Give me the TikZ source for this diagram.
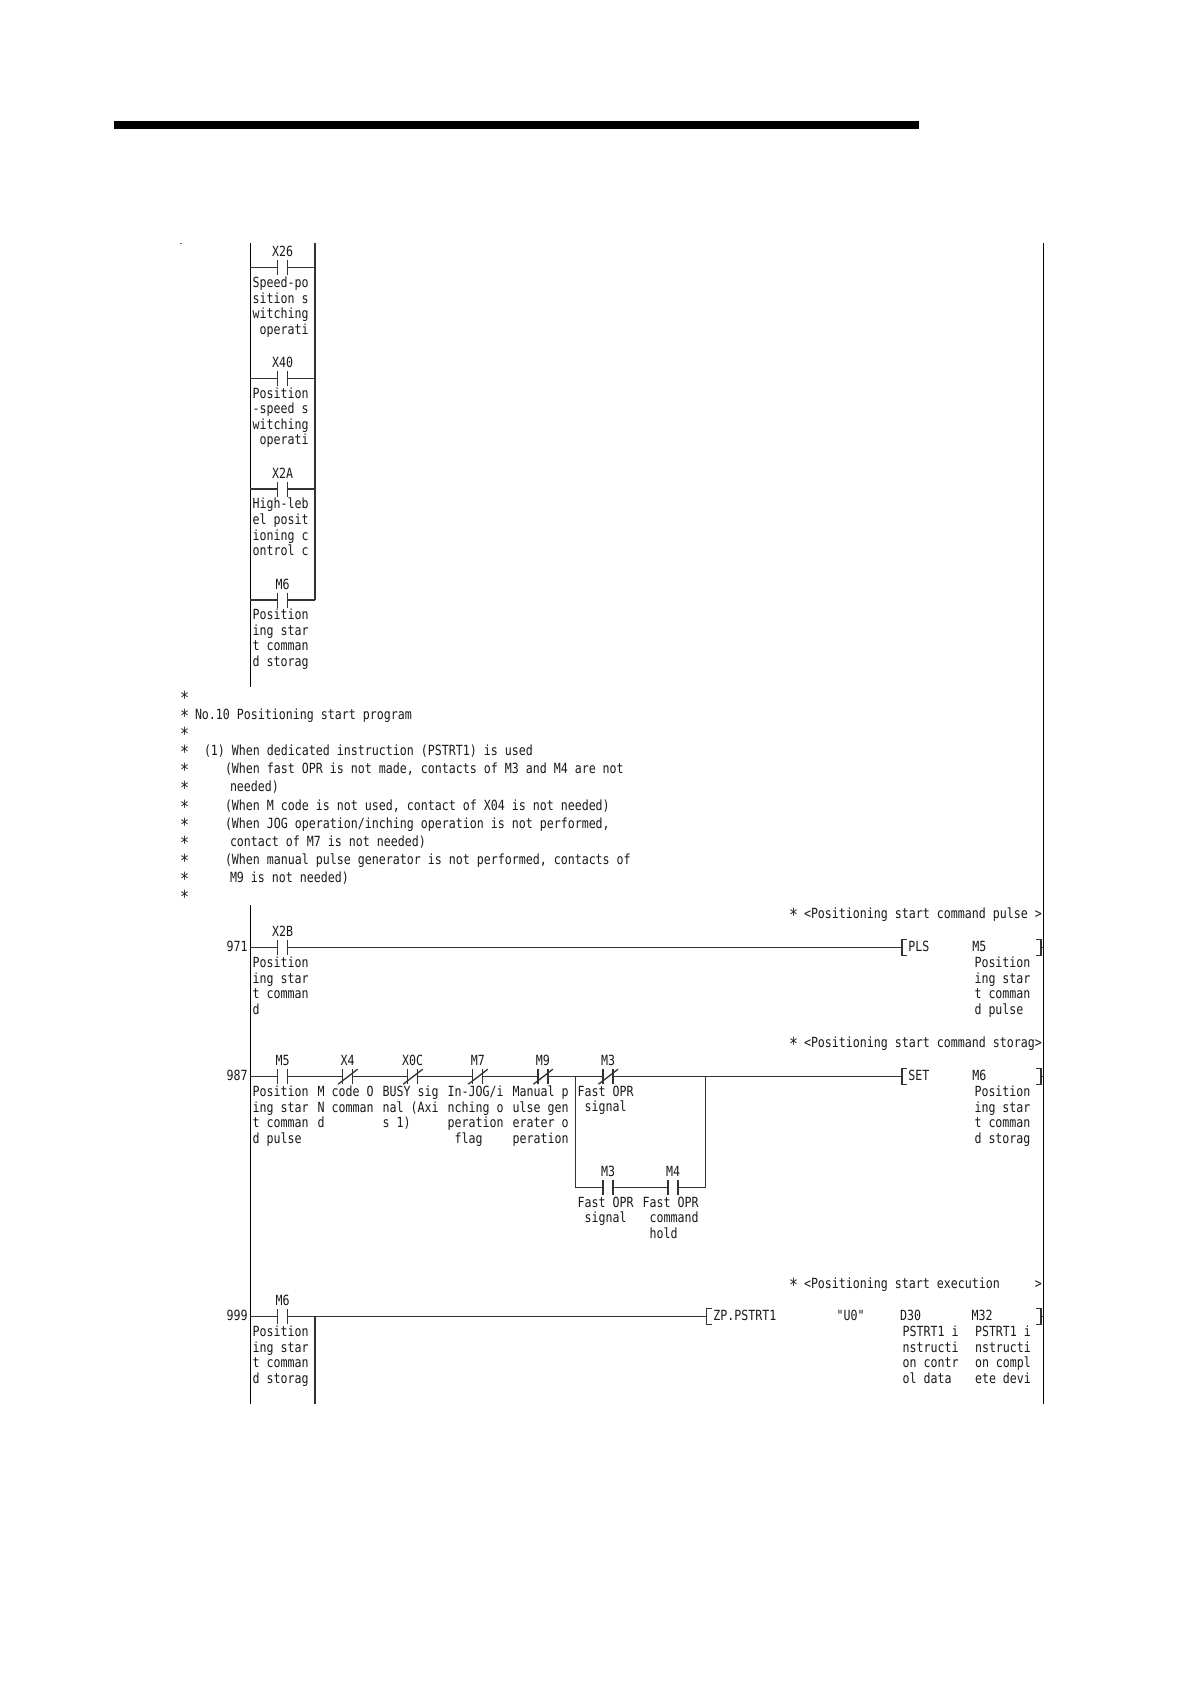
\documentclass[tikz,border=0pt]{standalone}
\usepackage{fontspec}
\newfontfamily\gothic[FakeStretch=0.83]{DejaVu Sans Mono}
\newcommand\sk{\hspace*{7pt}}
\newcommand\stari{\makebox[7pt]{\fontsize{18}{15.6}\selectfont\raisebox{-3pt}{*}}}
\tikzset{
  wire/.style={line width=1.3pt,draw=black!80},
  rail/.style={line width=1.6pt,draw=black},
  txt/.style={inner sep=0pt,outer sep=0pt,anchor=north west,align=left,yshift=5.9pt,
    font={\gothic\fontsize{14}{15.6}\selectfont},text=black!90,execute at begin node={\strut}},
  dev/.style={txt,anchor=north,align=center},
  noc/.style={rectangle,inner sep=0pt,outer sep=0pt,minimum width=10pt,minimum height=15pt,
    append after command={
      (\tikzlastnode.north west) edge[wire] (\tikzlastnode.south west)
      (\tikzlastnode.north east) edge[wire] (\tikzlastnode.south east)}},
  ncc/.style={noc,
    append after command={
      ([shift={(-4.5pt,0pt)}]\tikzlastnode.south west) edge[wire] ([shift={(5pt,0pt)}]\tikzlastnode.north east)}},
}
\newcommand\lbrk[1]{\draw[wire] ([shift={(5,7.5)}]#1) -- ([shift={(0,7.5)}]#1) -- ([shift={(0,-8.5)}]#1) -- ([shift={(5,-8.5)}]#1);}
\newcommand\rbrk[1]{\draw[wire] ([shift={(-5,7.5)}]#1) -- ([shift={(0,7.5)}]#1) -- ([shift={(0,-8.5)}]#1) -- ([shift={(-5,-8.5)}]#1);}
\begin{document}
\begin{tikzpicture}[x=1pt,y=-1pt]
\useasboundingbox (0,0) rectangle (1190,1684);
\fill[white] (0,0) rectangle (1190,1684);
% header bar
\fill[black] (114,121) rectangle (919,129);
\draw[black!60,line width=0.6pt] (179.5,243.3) -- (182,243.3);
% rails
\coordinate (L1t) at (250.3,243);
\coordinate (L1b) at (250.3,687);
\coordinate (L2t) at (250.3,905);
\coordinate (L2b) at (250.3,1404);
\coordinate (Rt) at (1043.3,243);
\coordinate (Rb) at (1043.3,1404);
\coordinate (Mt) at (315,243);
\coordinate (Mb) at (315,600);
\coordinate (Nt) at (315,1316.7);
\coordinate (Nb) at (315,1404);
\draw[rail] (L1t) -- (L1b);
\draw[rail] (L2t) -- (L2b);
\draw[rail] (Rt) -- (Rb);
\draw[wire] (Mt) -- (Mb);
\draw[wire] (Nt) -- (Nb);
% top parallel contacts
\coordinate (a1l) at (250.3,267.7); \coordinate (a1r) at (315,267.7);
\coordinate (a2l) at (250.3,378.4); \coordinate (a2r) at (315,378.4);
\coordinate (a3l) at (250.3,489);   \coordinate (a3r) at (315,489);
\coordinate (a4l) at (250.3,600);   \coordinate (a4r) at (315,600);
\node[noc] (a1) at (282.5,267.7) {};
\node[noc] (a2) at (282.5,378.4) {};
\node[noc] (a3) at (282.5,489) {};
\node[noc] (a4) at (282.5,600) {};
\foreach \i in {1,2,3,4} {
  \draw[wire] (a\i l) -- (a\i.west);
  \draw[wire] (a\i.east) -- (a\i r);
}
\node[dev] (a1d) at (282.5,251) {X26};
\node[dev] (a2d) at (282.5,362) {X40};
\node[dev] (a3d) at (282.5,473) {X2A};
\node[dev] (a4d) at (282.5,584) {M6};
\node[txt] (a1t) at (252.7,282.7) {Speed-po\\sition s\\witching\\\sk operati};
\node[txt] (a2t) at (252.7,393.4) {Position\\-speed s\\witching\\\sk operati};
\node[txt] (a3t) at (252.7,504) {High-leb\\el posit\\ioning c\\ontrol c};
\node[txt] (a4t) at (252.7,615) {Position\\ing star\\t comman\\d storag};
% comment block
\foreach \n/\yy in {1/696,2/714,3/732,4/750,5/768.5,6/786.7,7/805,8/823,9/841,10/859,11/877,12/895} {
  \node[txt] (star\n) at (181,\yy) {\stari};
}
\node[txt] (cm1) at (195,714) {No.10 Positioning start program};
\node[txt] (cm2) at (204,750) {(1) When dedicated instruction (PSTRT1) is used};
\node[txt] (cm3) at (225,768.5) {(When fast OPR is not made, contacts of M3 and M4 are not};
\node[txt] (cm4) at (230,786.7) {needed)};
\node[txt] (cm5) at (225,805) {(When M code is not used, contact of X04 is not needed)};
\node[txt] (cm6) at (225,823) {(When JOG operation/inching operation is not performed,};
\node[txt] (cm7) at (230,841) {contact of M7 is not needed)};
\node[txt] (cm8) at (225,859) {(When manual pulse generator is not performed, contacts of};
\node[txt] (cm9) at (230,877) {M9 is not needed)};
% rung 971
\coordinate (r1l) at (250.3,947.7);
\coordinate (r1r) at (1043.3,947.7);
\coordinate (b1) at (902,947.7);
\coordinate (e1) at (1041,947.7);
\node[txt,anchor=north east] (n971) at (247.5,946.3) {971};
\node[txt] (h1) at (790,913) {\stari\ <Positioning start command pulse >};
\node[noc] (c1) at (282.5,947.7) {};
\draw[wire] (r1l) -- (c1.west);
\draw[wire] (c1.east) -- (b1);
\lbrk{b1}
\rbrk{e1}
\draw[wire] (e1) -- (r1r);
\node[dev] (c1d) at (282.5,931) {X2B};
\node[txt] (c1t) at (252.7,962.7) {Position\\ing star\\t comman\\d};
\node[txt] (c1i) at (908.3,946) {PLS};
\node[txt] (c1o) at (972.3,946) {M5};
\node[txt] (c1c) at (974.5,962.7) {Position\\ing star\\t comman\\d pulse};
% rung 987
\coordinate (r2l) at (250.3,1076.7);
\coordinate (r2r) at (1043.3,1076.7);
\coordinate (b2) at (902,1076.7);
\coordinate (e2) at (1041,1076.7);
\coordinate (bl) at (575.3,1076.7);
\coordinate (br) at (705.3,1076.7);
\coordinate (blb) at (575.3,1187.7);
\coordinate (brb) at (705.3,1187.7);
\node[txt,anchor=north east] (n987) at (247.5,1075.3) {987};
\node[txt] (h2) at (790,1042) {\stari\ <Positioning start command storag>};
\node[noc] (d1) at (282.5,1076.7) {};
\node[ncc] (d2) at (347.6,1076.7) {};
\node[ncc] (d3) at (412.7,1076.7) {};
\node[ncc] (d4) at (477.8,1076.7) {};
\node[ncc] (d5) at (542.9,1076.7) {};
\node[ncc] (d6) at (608,1076.7) {};
\node[noc] (d7) at (608,1187.7) {};
\node[noc] (d8) at (673,1187.7) {};
\draw[wire] (r2l) -- (d1.west);
\draw[wire] (d1.east) -- (d2.west);
\draw[wire] (d2.east) -- (d3.west);
\draw[wire] (d3.east) -- (d4.west);
\draw[wire] (d4.east) -- (d5.west);
\draw[wire] (d5.east) -- (d6.west);
\draw[wire] (d6.east) -- (b2);
\draw[wire] (bl) -- (blb) -- (d7.west);
\draw[wire] (d7.east) -- (d8.west);
\draw[wire] (d8.east) -- (brb) -- (br);
\lbrk{b2}
\rbrk{e2}
\draw[wire] (e2) -- (r2r);
\node[dev] (d1n) at (282.5,1060) {M5};
\node[dev] (d2n) at (347.6,1060) {X4};
\node[dev] (d3n) at (412.7,1060) {X0C};
\node[dev] (d4n) at (477.8,1060) {M7};
\node[dev] (d5n) at (542.9,1060) {M9};
\node[dev] (d6n) at (608,1060) {M3};
\node[dev] (d7n) at (608,1171.5) {M3};
\node[dev] (d8n) at (673,1171.5) {M4};
\node[txt] (d1t) at (252.7,1091.7) {Position\\ing star\\t comman\\d pulse};
\node[txt] (d2t) at (317.7,1091.7) {M code O\\N comman\\d};
\node[txt] (d3t) at (382.7,1091.7) {BUSY sig\\nal (Axi\\s 1)};
\node[txt] (d4t) at (447.7,1091.7) {In-JOG/i\\nching o\\peration\\\sk flag};
\node[txt] (d5t) at (512.7,1091.7) {Manual p\\ulse gen\\erater o\\peration};
\node[txt] (d6t) at (577.7,1091.7) {Fast OPR\\\sk signal};
\node[txt] (d7t) at (577.7,1202.7) {Fast OPR\\\sk signal};
\node[txt] (d8t) at (642.7,1202.7) {Fast OPR\\\sk command\\\sk hold};
\node[txt] (d0i) at (908.3,1075) {SET};
\node[txt] (d0o) at (972.3,1075) {M6};
\node[txt] (d0c) at (974.5,1091.7) {Position\\ing star\\t comman\\d storag};
% rung 999
\coordinate (r3l) at (250.3,1316.7);
\coordinate (r3r) at (1043.3,1316.7);
\coordinate (b3) at (706.7,1316.7);
\coordinate (e3) at (1041,1316.7);
\node[txt,anchor=north east] (n999) at (247.5,1315.3) {999};
\node[txt] (h3) at (790,1283.3) {\stari\ <Positioning start execution\sk\sk\sk\sk\sk >};
\node[noc] (f1) at (282.5,1316.7) {};
\draw[wire] (r3l) -- (f1.west);
\draw[wire] (f1.east) -- (b3);
\lbrk{b3}
\rbrk{e3}
\draw[wire] (e3) -- (r3r);
\node[dev] (f1d) at (282.5,1300) {M6};
\node[txt] (f1t) at (252.7,1331.7) {Position\\ing star\\t comman\\d storag};
\node[txt] (f1i) at (713.3,1315) {ZP.PSTRT1};
\node[txt] (f1a) at (836.7,1315) {"U0"};
\node[txt] (f1b) at (900,1315) {D30};
\node[txt] (f1c) at (971.7,1315) {M32};
\node[txt] (f1e) at (902.7,1331.7) {PSTRT1 i\\nstructi\\on contr\\ol data};
\node[txt] (f1f) at (975,1331.7) {PSTRT1 i\\nstructi\\on compl\\ete devi};
\end{tikzpicture}
\end{document}
